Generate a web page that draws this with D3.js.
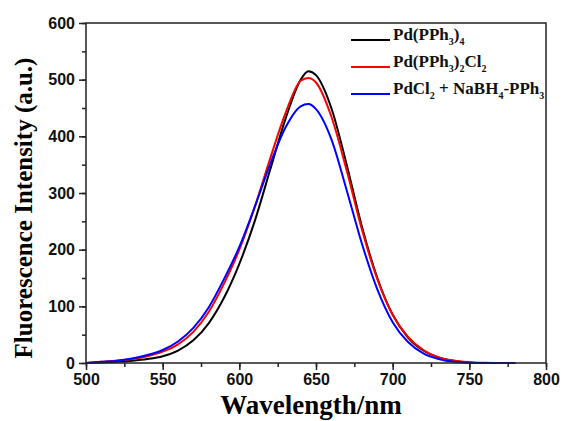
<!DOCTYPE html>
<html>
<head>
<meta charset="utf-8">
<script src="https://cdn.jsdelivr.net/npm/d3@7"></script>
<style>
  body { margin: 0; background: #fff; }
  svg { display: block; }
</style>
</head>
<body>
<svg id="chart" width="563" height="421"></svg>
<script>
const margin = { left: 86, right: 17, top: 23, bottom: 58 };
const size = { width: 563, height: 421 };

// wavelength grid (nm)
const wavelengths = [500, 510, 520, 530, 540, 550, 560, 570, 580, 590, 600, 610, 620, 630, 640, 645, 650, 660, 670, 680, 690, 700, 710, 720, 730, 740, 750, 760, 770, 780];

// fluorescence intensity per sample
const pdPPh34 = [0, 1, 2, 4, 7, 12, 22, 40, 70, 115, 175, 250, 340, 430, 500, 515, 508, 450, 350, 240, 150, 85, 45, 22, 10, 4, 1, 0, 0, 0];
const pdPPh32Cl2 = [0, 2, 4, 7, 12, 20, 33, 55, 90, 140, 200, 275, 360, 440, 498, 503, 495, 435, 340, 235, 148, 85, 46, 23, 10, 4, 1.5, 0.5, 0, 0];
const pdCl2NaBH4 = [0, 2, 4, 8, 14, 23, 38, 62, 98, 148, 205, 275, 350, 415, 453, 457, 448, 395, 305, 210, 130, 72, 37, 17, 7, 2, 0.5, 0, 0, 0];

const xTicks = [500, 550, 600, 650, 700, 750, 800];
const yTicks = [0, 100, 200, 300, 400, 500, 600];

const series = [
  { values: pdPPh34, color: "#000000" },
  { values: pdPPh32Cl2, color: "#ff0000" },
  { values: pdCl2NaBH4, color: "#0000ff" }
];

const svg = d3.select("#chart");
const w = size.width - margin.left - margin.right;
const h = size.height - margin.top - margin.bottom;

const x = d3.scaleLinear().domain([500, 800]).range([margin.left, margin.left + w]);
const y = d3.scaleLinear().domain([0, 600]).range([margin.top + h, margin.top]);

const line = d3.line()
  .x((d, i) => x(wavelengths[i]))
  .y(d => y(d))
  .curve(d3.curveMonotoneX);

series.forEach(s => {
  svg.append("path")
    .datum(s.values)
    .attr("fill", "none")
    .attr("stroke", s.color)
    .attr("stroke-width", 2)
    .attr("d", line);
});

// frame
svg.append("rect")
  .attr("x", margin.left).attr("y", margin.top)
  .attr("width", w).attr("height", h)
  .attr("fill", "none").attr("stroke", "#222").attr("stroke-width", 1.5);

// minor ticks
const xMinor = d3.range(500, 801, 25);
const yMinor = d3.range(0, 601, 50);

const xAxis = svg.append("g")
  .attr("transform", `translate(0,${margin.top + h})`);
xAxis.call(d3.axisBottom(x).tickValues(xMinor).tickSize(4).tickFormat(""));
xAxis.call(g => g.select(".domain").remove());
const xMajor = svg.append("g")
  .attr("transform", `translate(0,${margin.top + h})`)
  .call(d3.axisBottom(x).tickValues(xTicks).tickSize(7).tickPadding(4).tickFormat(d3.format("d")));
xMajor.select(".domain").remove();

const yAxis = svg.append("g")
  .attr("transform", `translate(${margin.left},0)`);
yAxis.call(d3.axisLeft(y).tickValues(yMinor).tickSize(4).tickFormat(""));
yAxis.call(g => g.select(".domain").remove());
const yMajor = svg.append("g")
  .attr("transform", `translate(${margin.left},0)`)
  .call(d3.axisLeft(y).tickValues(yTicks).tickSize(7).tickPadding(4).tickFormat(d3.format("d")));
yMajor.select(".domain").remove();

svg.selectAll(".tick line").attr("stroke", "#222").attr("stroke-width", 1.5);
svg.selectAll(".tick text")
  .attr("fill", "#111")
  .style("font-family", "'Liberation Sans', Arial, sans-serif")
  .style("font-weight", "bold")
  .style("font-size", "16px");

// axis titles
svg.append("text")
  .attr("x", margin.left + w / 2 - 5)
  .attr("y", 414)
  .attr("text-anchor", "middle")
  .style("font-family", "'Liberation Serif', 'Times New Roman', serif")
  .style("font-weight", "bold")
  .style("font-size", "27px")
  .text("Wavelength/nm");

svg.append("text")
  .attr("transform", `translate(32,${margin.top + h / 2 + 15}) rotate(-90)`)
  .attr("text-anchor", "middle")
  .style("font-family", "'Liberation Serif', 'Times New Roman', serif")
  .style("font-weight", "bold")
  .style("font-size", "25px")
  .text("Fluorescence Intensity (a.u.)");

// legend
const legendItems = [
  { color: "#000000", parts: [["Pd(PPh", 0], ["3", 1], [")", 0], ["4", 1]] },
  { color: "#ff0000", parts: [["Pd(PPh", 0], ["3", 1], [")", 0], ["2", 1], ["Cl", 0], ["2", 1]] },
  { color: "#0000ff", parts: [["PdCl", 0], ["2", 1], [" + NaBH", 0], ["4", 1], ["-PPh", 0], ["3", 1]] }
];
const legendY = [40, 67, 94];

legendItems.forEach((item, i) => {
  const g = svg.append("g").attr("transform", `translate(351,${legendY[i]})`);
  g.append("line")
    .attr("x1", 0).attr("x2", 39)
    .attr("y1", 0).attr("y2", 0)
    .attr("stroke", item.color).attr("stroke-width", 2);
  const t = g.append("text")
    .attr("x", 42).attr("y", 5)
    .style("font-family", "'Liberation Serif', 'Times New Roman', serif")
    .style("font-weight", "bold")
    .style("font-size", "17px")
    .attr("fill", "#111");
  item.parts.forEach(([str, sub]) => {
    t.append("tspan")
      .attr("dy", sub ? 5 : (t.selectAll("tspan").size() ? -5 : 0))
      .style("font-size", sub ? "10px" : "17px")
      .text(str);
  });
});
</script>
</body>
</html>
